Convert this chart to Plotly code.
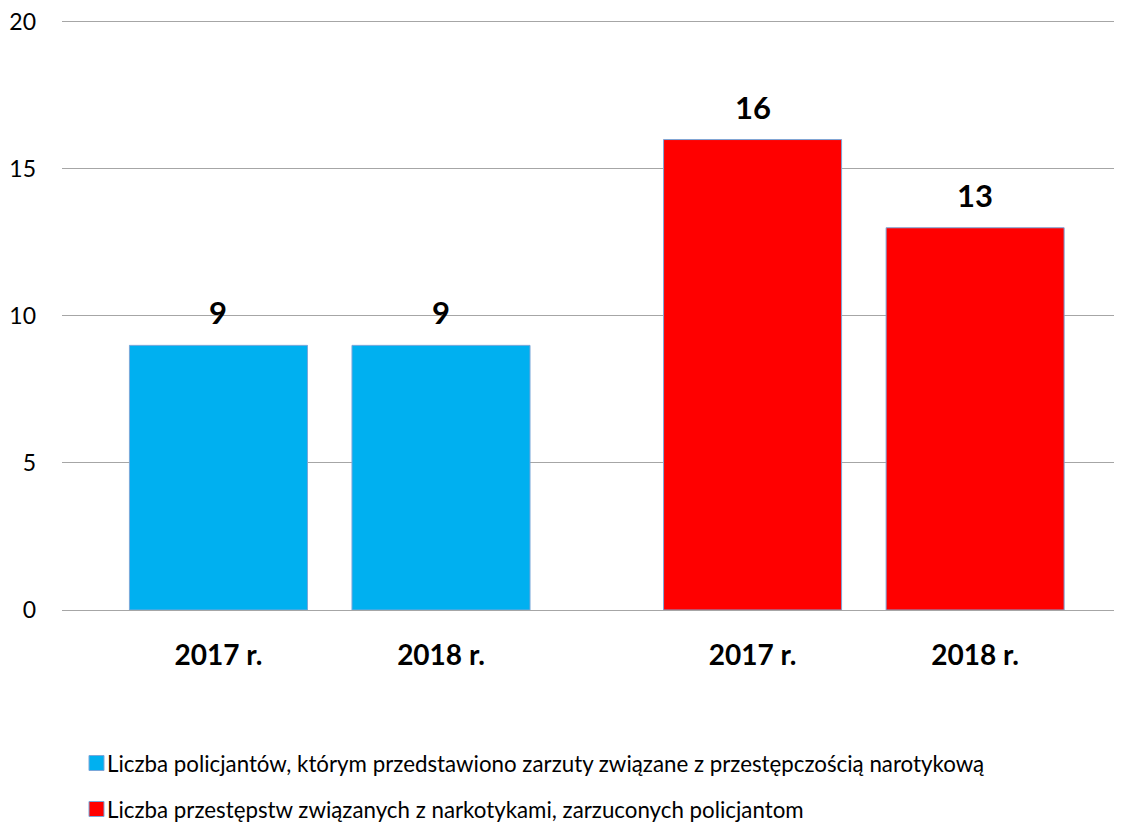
import plotly.graph_objects as go

years = ["2017 r.", "2018 r."]
policemen = [9, 9]
crimes = [16, 13]
series_names = [
    "Liczba policjantów, którym przedstawiono zarzuty związane z przestępczością narotykową",
    "Liczba przestępstw związanych z narkotykami, zarzuconych policjantom",
]
colors = ["#00B0F0", "#FF0000"]
outline = "#7BA7D9"
FONT = "Lato, Open Sans, sans-serif"

# the page body adds an 8px margin; size the figure so it ends at the window edge
OFF = 8
W, H = 1122 - OFF, 823 - OFF
ML, MR, MT, MB = 62 - OFF, 0, 22 - OFF - 3, 213
PW, PH = W - ML - MR, H - MT - MB


def px_x(p):  # screen px -> paper
    return (p - OFF - ML) / PW


def px_y(p):
    return (H - MB - (p - OFF)) / PH


# layout positions for the two groups
group_offsets = [0.0, 2.4]
bar_w = 0.8

fig = go.Figure()
all_x, all_text = [], []
for gi, (vals, name, col) in enumerate(zip([policemen, crimes], series_names, colors)):
    xs = [group_offsets[gi] + i for i in range(len(vals))]
    all_x += xs
    all_text += years
    fig.add_trace(go.Bar(
        x=xs, y=vals, name=name, width=bar_w,
        marker=dict(color=col, line=dict(color=outline, width=1)),
        showlegend=False,
    ))
    for x, v in zip(xs, vals):
        fig.add_annotation(x=x, y=v, text=f"<b>{v}</b>", showarrow=False,
                           yshift=33, yanchor="middle",
                           font=dict(size=31, color="black", family=FONT))

# manual legend (rows at fixed pixel positions)
legend_rows_y = [763, 809]
for name, col, ry in zip(series_names, colors, legend_rows_y):
    fig.add_shape(type="rect", xref="paper", yref="paper",
                  x0=px_x(89), x1=px_x(104), y0=px_y(ry - 7.5), y1=px_y(ry + 7.5),
                  fillcolor=col, line=dict(color=outline, width=1))
    fig.add_annotation(xref="paper", yref="paper", x=px_x(106), y=px_y(ry),
                       xanchor="left", yanchor="middle", showarrow=False, text=name,
                       borderpad=0,
                       font=dict(size=22.3, color="black", family=FONT))

fig.update_layout(
    width=W, height=H,
    margin=dict(l=ML, r=MR, t=MT, b=MB),
    plot_bgcolor="white", paper_bgcolor="white",
    font=dict(family=FONT, color="black"),
    showlegend=False,
    xaxis=dict(range=[-0.703, 4.06], tickvals=all_x, ticktext=[f"<b>{t}</b>" for t in all_text],
               tickfont=dict(size=28, color="black"), showgrid=False, zeroline=False,
               ticklabelstandoff=26, showline=False, automargin=False,
               ticklabeloverflow="allow"),
    yaxis=dict(range=[0, 20.1], tickvals=[0, 5, 10, 15, 20], showgrid=True, gridcolor="#A6A6A6",
               gridwidth=1, zeroline=True, zerolinecolor="#A6A6A6", zerolinewidth=1,
               tickfont=dict(size=23, color="black"), ticklabelstandoff=25, showline=False,
               automargin=False, ticklabeloverflow="allow"),
)

fig.write_html("out.html")
